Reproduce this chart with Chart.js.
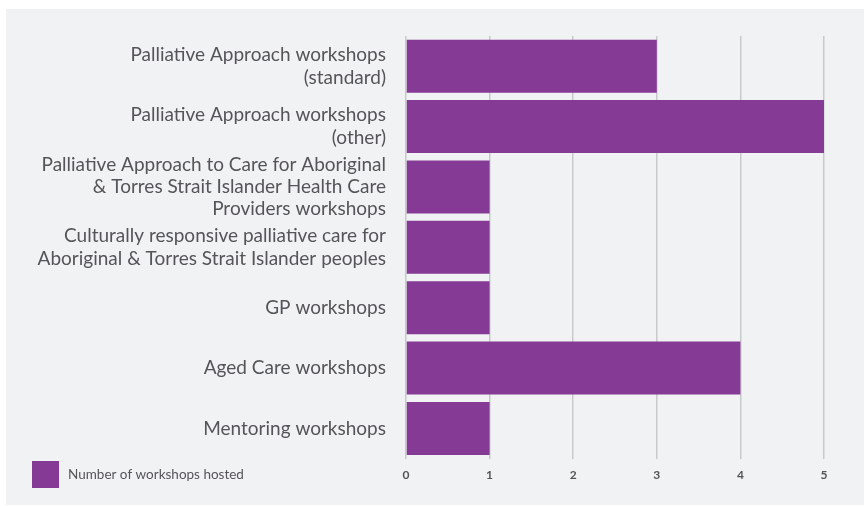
<!DOCTYPE html>
<html>
<head>
<meta charset="utf-8">
<script src="https://cdn.jsdelivr.net/npm/chart.js@4"></script>
<style>
    html, body { margin: 0; padding: 0; background: #ffffff; }
    #wrap { position: relative; width: 864px; height: 506px; }
</style>
</head>
<body>
<div id="wrap"><canvas id="workshops"></canvas></div>
<script>
// Data
const categories = [
    ['Palliative Approach workshops', '(standard)'],
    ['Palliative Approach workshops', '(other)'],
    ['Palliative Approach to Care for Aboriginal', '& Torres Strait Islander Health Care', 'Providers workshops'],
    ['Culturally responsive palliative care for', 'Aboriginal & Torres Strait Islander peoples'],
    ['GP workshops'],
    ['Aged Care workshops'],
    ['Mentoring workshops']
];
const workshopCounts = [3, 5, 1, 1, 1, 4, 1];
const seriesLabel = 'Number of workshops hosted';
const xTicks = [0, 1, 2, 3, 4, 5];

const purple = '#853a95';
const textGray = '#555559';

// grey panel behind the chart
const panelBg = {
    id: 'panelBg',
    beforeDraw(chart) {
        const ctx = chart.ctx;
        ctx.save();
        ctx.fillStyle = '#f1f2f4';
        ctx.fillRect(6, 9, chart.width - 6, chart.height - 10);
        ctx.restore();
    }
};

// legend sits on the same line as the x ticks, bottom left
const sideLegend = {
    id: 'sideLegend',
    afterDraw(chart) {
        const ctx = chart.ctx;
        const ds = chart.data.datasets[0];
        ctx.save();
        ctx.fillStyle = ds.backgroundColor;
        ctx.fillRect(32, 461, 27, 27);
        ctx.fillStyle = textGray;
        ctx.font = '13.5px Lato';
        ctx.textBaseline = 'middle';
        ctx.textAlign = 'left';
        ctx.fillText(ds.label, 68, 475);
        ctx.restore();
    }
};

new Chart(document.getElementById('workshops'), {
    type: 'bar',
    data: {
        labels: categories,
        datasets: [{
            label: seriesLabel,
            data: workshopCounts,
            backgroundColor: purple,
            borderWidth: 0,
            barPercentage: 0.877,
            categoryPercentage: 1
        }]
    },
    options: {
        indexAxis: 'y',
        responsive: true,
        maintainAspectRatio: false,
        animation: false,
        layout: { padding: { left: 0, right: 40, top: 36, bottom: 15 } },
        plugins: {
            legend: { display: false },
            tooltip: { enabled: false }
        },
        scales: {
            x: {
                min: 0,
                max: 5,
                afterBuildTicks(scale) {
                    scale.ticks = xTicks.map(v => ({ value: v }));
                },
                grid: { color: '#c9c9cb', lineWidth: 1.5, drawTicks: false },
                border: { display: false },
                ticks: {
                    padding: 9,
                    color: textGray,
                    font: { family: 'Lato', size: 12, weight: 'bold' }
                }
            },
            y: {
                afterFit(scale) { scale.width = 406; },
                grid: { display: false, drawTicks: false },
                border: { display: false },
                ticks: {
                    autoSkip: false,
                    padding: 20,
                    color: textGray,
                    font: { family: 'Lato', size: 19, lineHeight: 1.18 }
                }
            }
        }
    },
    plugins: [panelBg, sideLegend]
});
</script>
</body>
</html>
